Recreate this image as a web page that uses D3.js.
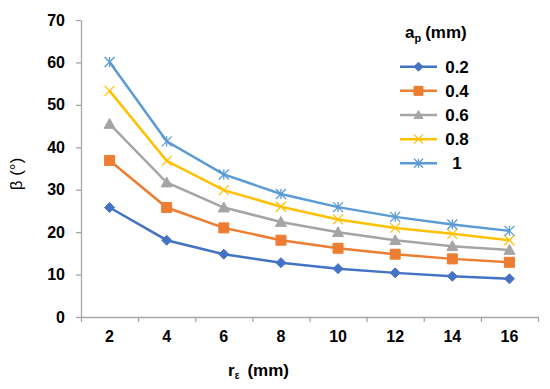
<!DOCTYPE html>
<html>
<head>
<meta charset="utf-8">
<script src="https://cdn.jsdelivr.net/npm/d3@7"></script>
<style>
  body { margin: 0; background: #fff; }
  svg { font-family: 'Liberation Sans', Arial, sans-serif; }
  .tick text { font-size: 16px; font-weight: bold; fill: #000; }
</style>
</head>
<body>
<svg id="chart" width="550" height="389"></svg>
<script>
const radii = ['2', '4', '6', '8', '10', '12', '14', '16'];
const yTicks = [0, 10, 20, 30, 40, 50, 60, 70];
const seriesNames = ['0.2', '0.4', '0.6', '0.8', '1'];
const ap02 = [25.8, 18.1, 14.8, 12.8, 11.4, 10.4, 9.6, 9.0];
const ap04 = [36.9, 25.8, 21.0, 18.1, 16.2, 14.8, 13.7, 12.9];
const ap06 = [45.5, 31.7, 25.8, 22.4, 20.0, 18.1, 16.7, 15.8];
const ap08 = [53.3, 36.8, 29.9, 26.0, 23.0, 21.0, 19.6, 18.1];
const ap10 = [60.1, 41.4, 33.6, 29.0, 25.9, 23.6, 21.8, 20.3];

const colors = ['#4472C4', '#ED7D31', '#A5A5A5', '#FFC000', '#5B9BD5'];
const markers = ['diamond', 'square', 'triangle', 'cross', 'star'];
const series = [ap02, ap04, ap06, ap08, ap10].map((vals, i) => ({
  name: seriesNames[i], color: colors[i], marker: markers[i], values: vals
}));

const svg = d3.select('#chart');
const axisColor = '#a6a6a6';

const x = d3.scaleBand().domain(radii).range([81, 538]).padding(0);
const y = d3.scaleLinear().domain([0, 70]).range([317, 20]);
const cx = d => x(d) + x.bandwidth() / 2;

// marker paths centred on 0,0
function markerPath(type, r) {
  const p = d3.path();
  if (type === 'diamond') {
    p.moveTo(0, -r); p.lineTo(r, 0); p.lineTo(0, r); p.lineTo(-r, 0); p.closePath();
  } else if (type === 'square') {
    p.rect(-r, -r, 2 * r, 2 * r);
  } else if (type === 'triangle') {
    p.moveTo(0, -r); p.lineTo(r, r * 0.8); p.lineTo(-r, r * 0.8); p.closePath();
  } else if (type === 'cross') {
    p.moveTo(-r, -r); p.lineTo(r, r); p.moveTo(r, -r); p.lineTo(-r, r);
  } else {
    p.moveTo(-r, -r); p.lineTo(r, r); p.moveTo(r, -r); p.lineTo(-r, r);
    p.moveTo(0, -r); p.lineTo(0, r);
  }
  return p.toString();
}
function drawMarker(g, s, r) {
  const open = s.marker === 'cross' || s.marker === 'star';
  g.append('path')
    .attr('d', markerPath(s.marker, r))
    .attr('fill', open ? 'none' : s.color)
    .attr('stroke', s.color)
    .attr('stroke-width', open ? 1.3 : 1);
}

// y axis
const yAxis = svg.append('g')
  .attr('transform', 'translate(81,0)')
  .call(d3.axisLeft(y).tickValues(yTicks).tickSize(5).tickSizeOuter(0).tickPadding(11));
yAxis.select('.domain').attr('stroke', axisColor).attr('stroke-width', 1.3);
yAxis.selectAll('.tick line').attr('stroke', axisColor).attr('stroke-width', 1.3);

// x axis: labels at band centres, tick marks at band edges
const edge = d3.scaleLinear().domain([0, radii.length]).range(x.range());
const xTicks = svg.append('g')
  .attr('transform', 'translate(0,317)')
  .call(d3.axisBottom(edge).tickValues(d3.range(radii.length + 1)).tickSize(5).tickSizeOuter(0).tickFormat(''));
xTicks.select('.domain').attr('stroke', axisColor).attr('stroke-width', 1.3);
xTicks.selectAll('.tick line').attr('stroke', axisColor).attr('stroke-width', 1.3);

const xAxis = svg.append('g')
  .attr('transform', 'translate(0,317)')
  .call(d3.axisBottom(x).tickSize(0).tickPadding(14));
xAxis.select('.domain').remove();

// lines
const line = d3.line()
  .x((d, i) => cx(radii[i]))
  .y(d => y(d));

series.forEach(s => {
  svg.append('path')
    .datum(s.values)
    .attr('fill', 'none')
    .attr('stroke', s.color)
    .attr('stroke-width', 2.5)
    .attr('d', line);
  s.values.forEach((v, i) => {
    const g = svg.append('g').attr('transform', `translate(${cx(radii[i])},${y(v)})`);
    drawMarker(g, s, s.marker === 'triangle' ? 5.5 : 5);
  });
});

// axis titles
svg.append('text')
  .attr('transform', 'translate(22,174) rotate(-90)')
  .attr('text-anchor', 'middle')
  .attr('font-size', 17)
  .text('β (°)');

const xTitle = svg.append('text')
  .attr('x', 228).attr('y', 376)
  .attr('font-size', 17).attr('font-weight', 'bold');
xTitle.append('tspan').text('r');
xTitle.append('tspan').attr('font-size', 10).attr('dy', 3).text('ε');
xTitle.append('tspan').attr('dy', -3).attr('dx', 8).text('(mm)');

// legend
const legend = svg.append('g');
const lt = legend.append('text')
  .attr('x', 405).attr('y', 38)
  .attr('font-size', 17).attr('font-weight', 'bold');
lt.append('tspan').text('a');
lt.append('tspan').attr('font-size', 11).attr('dy', 4).text('p');
lt.append('tspan').attr('dy', -4).attr('dx', 4).text('(mm)');

series.forEach((s, i) => {
  const yy = 66.7 + i * 24.15;
  legend.append('line')
    .attr('x1', 400).attr('x2', 437).attr('y1', yy).attr('y2', yy)
    .attr('stroke', s.color).attr('stroke-width', 2.5);
  const g = legend.append('g').attr('transform', `translate(418.5,${yy})`);
  drawMarker(g, s, 4.5);
  legend.append('text')
    .attr('x', 457).attr('y', yy + 6)
    .attr('text-anchor', 'middle')
    .attr('font-size', 17).attr('font-weight', 'bold')
    .text(s.name);
});
</script>
</body>
</html>
